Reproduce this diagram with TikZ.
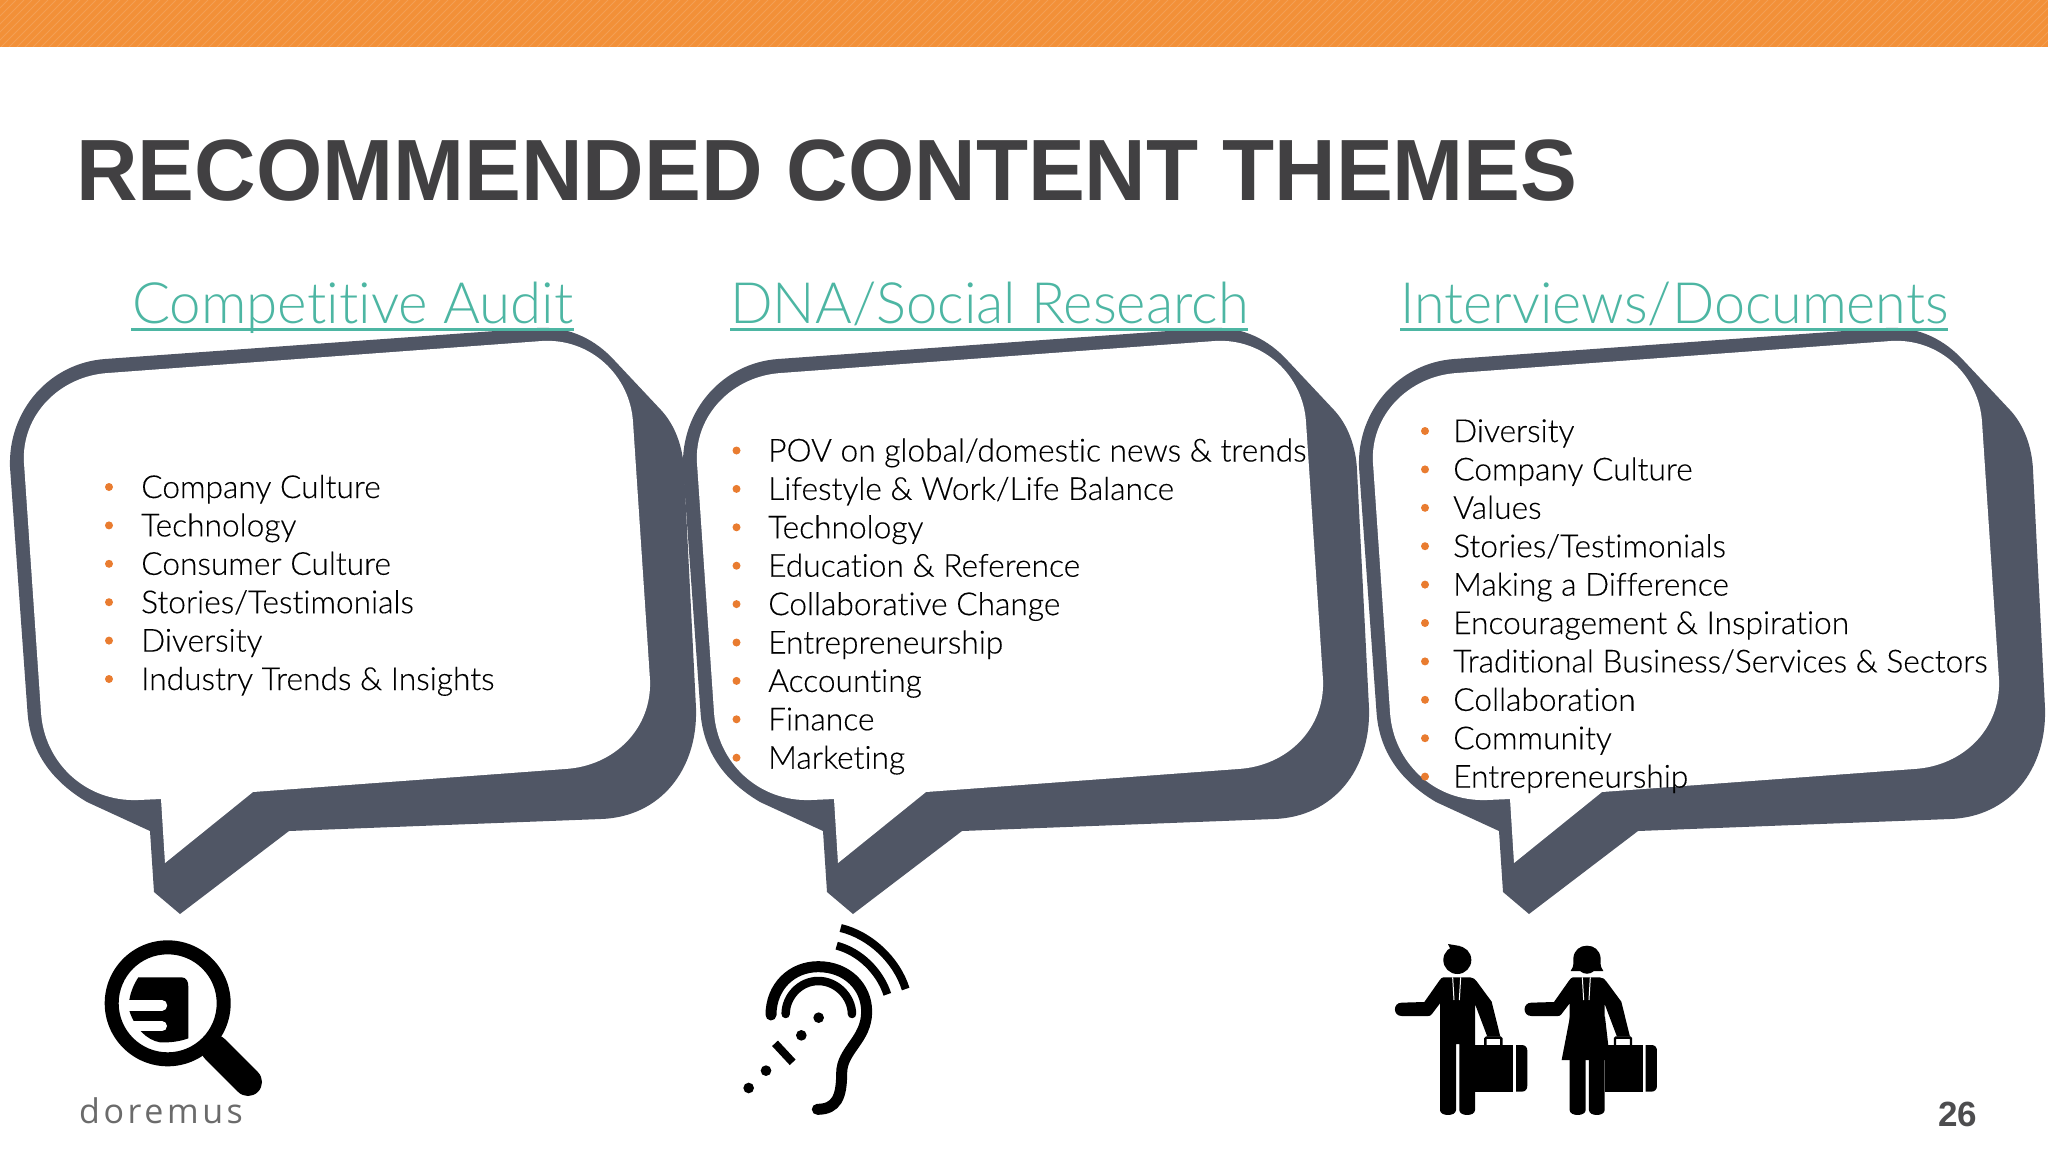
\documentclass[tikz,border=0pt]{standalone}
\usepackage{fontspec}
\usepackage{graphicx}
\setmainfont{Lato}[UprightFont=* Light,BoldFont=* Bold,Ligatures=NoCommon]
\newfontfamily\listfont{Lato Light}[Ligatures=NoCommon,FakeBold=0.25]
\newfontfamily\titlefont{Liberation Sans}[BoldFont=* Bold]
\newfontfamily\logofont{Open Sans}[LetterSpace=10.5]
\definecolor{bandorange}{HTML}{F29038}
\definecolor{slate}{HTML}{505665}
\definecolor{teal}{HTML}{4DB6A3}
\definecolor{bulletorange}{HTML}{E97C30}
\definecolor{titlegray}{HTML}{414042}
\definecolor{numgray}{HTML}{4D4D4F}
\tikzset{
  listitem/.style={anchor=base west,inner sep=0pt,font=\listfont\fontsize{31.7}{36}\selectfont,text=black},
  headerlabel/.style={anchor=base west,inner sep=0pt,font=\fontsize{57}{66}\selectfont,text=teal},
  headerrule/.style={draw=teal,line width=2.6pt},
  bulletdot/.style={fill=bulletorange,draw=none},
  iconline/.style={draw=black,line cap=round},
}
\newcommand{\bubble}[1]{%
\begin{scope}[shift={(#1,0)}]
  \fill[slate] (105,359) -- (537,328) .. controls (570,326) and (596,340) .. (615,361)
    -- (661,410) .. controls (675,425) and (683,447) .. (684,470)
    -- (696,708) .. controls (698,770) and (660,817) .. (601,819)
    -- (289,831) -- (180,914) -- (154,892) -- (150,831) -- (87,802)
    .. controls (50,780) and (30,750) .. (27.5,712)
    -- (10,467) .. controls (8,410) and (50,363) .. (105,359) -- cycle;
  \fill[white] (108,373) -- (542,341) .. controls (590,338) and (630,375) .. (633,422)
    -- (650,680) .. controls (652,728) and (615,766) .. (565,769)
    -- (253,792) -- (165,863) -- (161,799) -- (138,800)
    .. controls (85,802) and (44,762) .. (41,712)
    -- (24,463) .. controls (21,415) and (60,376) .. (108,373) -- cycle;
\end{scope}}
\newcommand{\person}[1]{%
\begin{scope}[shift={(#1,0)}]
  \fill (190,172) -- (270,172) .. controls (280,172) and (285,178) .. (290,184) -- (335,245)
    -- (361,350) -- (322,350) -- (285,252) -- (285,570)
    .. controls (285,590) and (238,590) .. (238,570) -- (238,372) -- (228,372) -- (228,570)
    .. controls (228,590) and (180,590) .. (180,570) -- (180,250) -- (155,283)
    .. controls (152,287) and (148,288) .. (145,288) -- (65,288)
    .. controls (38,288) and (38,248) .. (65,248) -- (133,246) -- (178,182)
    .. controls (182,176) and (186,172) .. (190,172) -- cycle;
  \draw[white,line width=1pt] (218,172) -- (222,240) (242,172) -- (238,240);
  \fill (285,375) -- (400,375) -- (400,515) -- (285,515) -- cycle;
  \fill (408,375) -- (425,375) .. controls (436,375) and (442,382) .. (442,392)
    -- (442,497) .. controls (442,508) and (436,515) .. (425,515) -- (408,515) -- cycle;
  \draw[black,line width=2.4pt,rounded corners=1pt] (316,375) -- (316,353) -- (364,353) -- (364,375);
\end{scope}}
\begin{document}
\begin{tikzpicture}[x=1pt,y=-1pt]
\useasboundingbox (0,0) rectangle (2048,1152);
\fill[white] (0,0) rectangle (2048,1152);
% top band
\fill[bandorange] (0,0) rectangle (2048,47);
\begin{scope}
  \clip (0,0) rectangle (2048,47);
  \foreach \k in {0,8,...,2096}{\draw[white,opacity=.14,line width=1pt] (\k,0) -- (\k-47,47);}
\end{scope}
% title
\node[anchor=base west,inner sep=0pt,text=titlegray,font=\titlefont\bfseries\fontsize{87}{95}\selectfont] (title) at (76,200) {\scalebox{.98}[1]{RECOMMENDED CONTENT THEMES}};
% speech bubbles
\bubble{0}
\bubble{673}
\bubble{1349}
% headers
\node[headerlabel] (h1) at (132,323) {\scalebox{.99}[1]{Competitive Audit}};
\node[headerlabel] (h2) at (730,323) {\scalebox{.985}[1]{DNA/Social Research}};
\node[headerlabel] (h3) at (1400,323) {\scalebox{.977}[1]{Interviews/Documents}};
\draw[headerrule] (131,329.5) -- (574,329.5);
\draw[headerrule] (730,329.5) -- (1248,329.5);
\draw[headerrule] (1400,329.5) -- (1948,329.5);
% lists
\foreach \t [count=\i from 0] in {Company Culture,Technology,Consumer Culture,Stories/Testimonials,Diversity,Industry Trends \& Insights}{
  \fill[bulletdot] (109,487+38.4*\i) circle (4);
  \node[listitem] (a\i) at (141,498+38.4*\i) {\t};
}
\foreach \t [count=\i from 0] in {POV on global/domestic news \& trends,Lifestyle \& Work/Life Balance,Technology,Education \& Reference,Collaborative Change,Entrepreneurship,Accounting,Finance,Marketing}{
  \fill[bulletdot] (736.5,450.5+38.4*\i) circle (4);
  \node[listitem] (b\i) at (768,461.5+38.4*\i) {\t};
}
\foreach \t [count=\i from 0] in {Diversity,Company Culture,Values,Stories/Testimonials,Making a Difference,Encouragement \& Inspiration,Traditional Business/Services \& Sectors,Collaboration,Community,Entrepreneurship}{
  \fill[bulletdot] (1425,431+38.4*\i) circle (4);
  \node[listitem] (c\i) at (1453,442+38.4*\i) {\t};
}
% magnifier logo
\fill[black,even odd rule] (167.7,1003.3) circle (63) (167.7,1003.3) circle (49);
\draw[black,line width=28pt,line cap=round] (215,1049) -- (248,1082);
\begin{scope}[shift={(60,920)},x=.3333pt,y=-.3333pt]
  \fill (235,172) -- (365,172) .. controls (380,172) and (385,185) .. (385,200)
    -- (385,355) .. controls (355,366) and (325,368) .. (300,367)
    .. controls (260,360) and (225,325) .. (208,272) -- (208,240)
    .. controls (212,215) and (222,192) .. (235,172) -- cycle;
  \draw[white,line width=10.5pt,line cap=round] (195,256) -- (306,256);
  \draw[white,line width=10pt,line cap=round] (220,319) -- (306,319);
\end{scope}
\node[anchor=base west,inner sep=0pt,text=black!58,font=\logofont\fontsize{34}{40}\selectfont] (logo) at (79,1123) {doremus};
% ear icon
\begin{scope}[shift={(720,900)},x=.3333pt,y=-.3333pt]
  \draw[iconline,line width=11pt] (153,345) .. controls (153,260) and (215,200) .. (295,200)
     .. controls (380,200) and (440,260) .. (440,335)
     .. controls (440,420) and (365,450) .. (365,520)
     .. controls (365,590) and (350,628) .. (292,628);
  \draw[iconline,line width=8.5pt] (197,342) .. controls (197,290) and (240,243) .. (295,243)
     .. controls (350,243) and (395,290) .. (396,342);
  \draw[black,line width=8pt] (350,137) .. controls (420,155) and (480,215) .. (502,283);
  \draw[black,line width=8pt] (362,84) .. controls (450,105) and (530,180) .. (557,267);
  \fill (296,353) circle (16) (244,406) circle (16) (138,512) circle (16) (86,564) circle (16);
  \draw[black,line width=8pt] (165,430) -- (218,487);
\end{scope}
% people
\begin{scope}[shift={(1380,920)},x=.3333pt,y=-.3333pt]
  \person{0}
  \fill (232,120) circle (42);
  \fill (204,72) -- (240,78) -- (215,95) -- cycle;
  \person{389}
  \fill (572,153) .. controls (584,138) and (580,120) .. (580,115)
    .. controls (582,90) and (600,77) .. (621,77)
    .. controls (642,77) and (660,90) .. (662,115)
    .. controls (662,120) and (658,138) .. (670,153)
    -- (642,153) .. controls (630,164) and (612,164) .. (600,153) -- cycle;
  \fill (570,290) -- (675,290) -- (690,420) -- (545,420) -- cycle;
\end{scope}
% page number
\node[anchor=base west,inner sep=0pt,text=numgray,font=\titlefont\bfseries\fontsize{35}{38}\selectfont] (page) at (1938,1126) {26};
\end{tikzpicture}
\end{document}
